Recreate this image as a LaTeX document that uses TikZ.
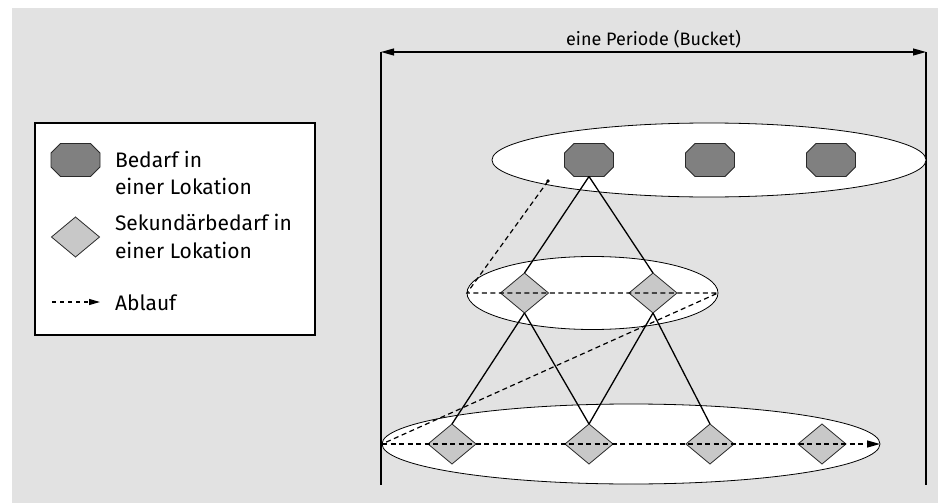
\documentclass[tikz,border=0pt]{standalone}
\usepackage{fontspec}
\setmainfont{Fira Sans}
\usetikzlibrary{shapes.geometric,arrows.meta}
\definecolor{bggray}{HTML}{E2E2E2}
\definecolor{octfill}{HTML}{808080}
\definecolor{diafill}{HTML}{C8C8C8}
\definecolor{edgegray}{HTML}{2A2A2A}
% octagon outline drawn inside the box of a demand node
\newcommand\drawoct[1]{%
  \filldraw[octline]
    ([xshift=9.5pt]#1.north west) -- ([xshift=-9.5pt]#1.north east)
    -- ([yshift=-9.5pt]#1.north east) -- ([yshift=9.5pt]#1.south east)
    -- ([xshift=-9.5pt]#1.south east) -- ([xshift=9.5pt]#1.south west)
    -- ([yshift=9.5pt]#1.south west) -- ([yshift=-9.5pt]#1.north west) -- cycle;}
\begin{document}
\begin{tikzpicture}[x=1pt,y=-1pt,
  every node/.style={inner sep=0pt,outer sep=0pt},
  level/.style={ellipse,draw=black,fill=white,line width=0.8pt},
  demand/.style={rectangle,minimum width=49pt,minimum height=33pt},
  octline/.style={draw=edgegray,fill=octfill,line width=0.8pt},
  secondary/.style={diamond,shape aspect=1.2,minimum width=48pt,minimum height=40pt,
    draw=edgegray,fill=diafill,line width=0.8pt},
  label/.style={font=\fontsize{21}{24}\selectfont,anchor=base west,text=black},
  title/.style={font=\fontsize{18}{21}\selectfont,anchor=base,text=black},
  tree/.style={line width=1.3pt,black},
  flow/.style={line width=1.2pt,black,dash pattern=on 5pt off 3.5pt},
  bound/.style={line width=1.5pt,black}]
\useasboundingbox (0,0) rectangle (938,503);
\fill[white] (0,0) rectangle (938,503);
\fill[bggray] (12,8) rectangle (938,503);

% legend
\node[draw=black,line width=1.2pt,fill=white,minimum width=280pt,minimum height=212pt] (legend) at (175,229) {};
\node[demand] (lgoct) at (75.5,160) {};
\drawoct{lgoct}
\node[secondary] (lgdia) at (75.5,237) {};
\coordinate (lgfrom) at (52,302);
\coordinate (lgto) at (100,302);
\draw[line width=1.2pt,dash pattern=on 4pt off 4pt,-{Triangle[length=11pt,width=6pt]}] (lgfrom) -- (lgto);
\node[label] (l1a) at (115,167) {Bedarf in};
\node[label] (l1b) at (115,194.3) {einer Lokation};
\node[label] (l2a) at (115,230.5) {Sekundärbedarf in};
\node[label] (l2b) at (115,258) {einer Lokation};
\node[label] (l3) at (115,310) {Ablauf};

% period bounds
\coordinate (pTL) at (381,52);
\coordinate (pTR) at (926,52);
\coordinate (pBL) at (381,485);
\coordinate (pBR) at (926,485);
\draw[bound] (pTL) -- (pBL);
\draw[bound] (pTR) -- (pBR);
\draw[line width=1.2pt,{Triangle[length=13pt,width=7pt]}-{Triangle[length=13pt,width=7pt]}] (pTL) -- (pTR);
\node[title] (period) at (653.5,45.5) {eine Periode (Bucket)};

% levels
\node[level,minimum width=434pt,minimum height=74pt] (top) at (709,160) {};
\node[level,minimum width=251pt,minimum height=73pt] (mid) at (592.5,293) {};
\node[level,minimum width=498pt,minimum height=80pt] (bot) at (631,444) {};

% demand nodes
\node[demand] (d1) at (589,160) {};
\node[demand] (d2) at (710,160) {};
\node[demand] (d3) at (831,160) {};
\drawoct{d1}
\drawoct{d2}
\drawoct{d3}
\node[secondary] (m1) at (524.5,293) {};
\node[secondary] (m2) at (653,293) {};
\node[secondary] (b1) at (452,444) {};
\node[secondary] (b2) at (589,444) {};
\node[secondary] (b3) at (710,444) {};
\node[secondary] (b4) at (822,444) {};

% structure
\draw[tree] (d1.south) -- (m1.north);
\draw[tree] (d1.south) -- (m2.north);
\draw[tree] (m1.south) -- (b1.north);
\draw[tree] (m1.south) -- (b2.north);
\draw[tree] (m2.south) -- (b2.north);
\draw[tree] (m2.south) -- (b3.north);

% sequence
\coordinate (start) at (548,181);
\fill (start) circle (1.8pt);
\draw[flow] (start) -- (mid.west) -- (mid.east) -- (bot.west);
\draw[flow,-{Triangle[length=13pt,width=7pt]}] (bot.west) -- (bot.east);
\end{tikzpicture}
\end{document}
